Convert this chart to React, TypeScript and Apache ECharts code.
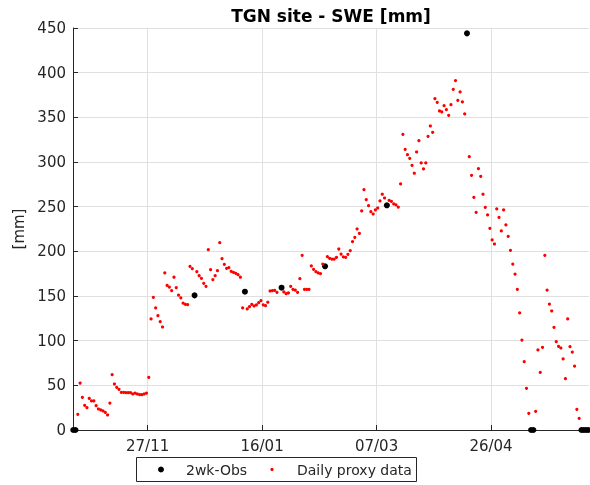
import React, { useEffect, useRef } from 'react';
import * as echarts from 'echarts';

// Day offsets are counted from 27/11 (day 0); tick labels every 50 days.
const TICK_DAYS = [0, 50, 100, 150];
const TICK_LABELS = ['27/11', '16/01', '07/03', '26/04'];

const X_MIN_DAY = -32.6;
const X_MAX_DAY = 192.8;

// Daily proxy SWE [mm], one value per day starting at PROXY_START_DAY (null = no value)
const PROXY_START_DAY = -31;
const PROXY_VALUES: (number | null)[] = [
  17.6, 52.6, 36.6, 27.6, 25, 35.4, 32.5, 32.5, 27.2, 23.5, // -31..-22
  22.4, 21.3, 19.8, 16.8, 30.2, 61.9, 51.5, 47.8, 45.5, 42.2, // -21..-12
  42.2, 41.8, 41.8, 41.8, 40.3, 41.4, 40.3, 39.5, 39.5, 40.3, // -11..-2
  41.4, 59, 124.3, 148.5, 136.6, 128, 121.3, 115.3, 175.8, 162, // -1..8
  160, 156, 171, 159.3, 151, 148, 142, 140.7, 140.3, 183.2, // 9..18
  180.6, null, 177.2, 172.7, 169.8, 164.2, 160.8, 201.9, 179.5, 168.3, // 19..28
  172.7, 178.3, 209.7, 191.8, 185.5, 181, 181.7, 177.6, 176.5, 175.4, // 29..38
  173.9, 171, 136.6, null, 135.5, 138, 140.7, 138.8, 140, 142.5, // 39..48
  144.7, 140, 139.2, 143, 155.6, 156, 156.4, 154.1, null, null, // 49..58
  154.5, 152.6, 153.4, 160.9, 157.5, 156.7, 154.1, 169.4, 195.6, 157.5, // 59..68
  157.5, 157.5, 183.6, 179.9, 177.2, 175.8, 175, 185.8, null, 194, // 69..78
  192.2, 191.4, 191.4, 193.3, 202.6, 197, 193.7, 193.3, 196.7, 200.7, // 79..88
  210.8, 215.5, 225, 220, 245.2, 269, 257.8, 251.1, 244.4, 241.8, // 89..98
  246.3, 248.5, 256.4, 263.9, 259.7, null, 257.1, 256, 253, 251.9, // 99..108
  249.6, 275.4, 331, 314.2, 308.2, 304.1, 296.3, 287.4, 311.2, 323.9, // 109..118
  298.9, 292.2, 298.9, 328.8, 340.3, 333.2, 370.9, 366.8, 357.1, 356, // 119..128
  363, 358.6, 352.3, 364.2, 381.4, 391.1, 369.1, 378.4, 367.2, 353.8, // 129..138
  null, 306, 285.1, 260.5, 243.7, 292.5, 284, 263.9, 249.3, 240.7, // 139..148
  225.8, 212.7, 208.2, 247.5, 238, 222.8, 246.3, 229.5, 216.8, 201.1, // 149..158
  185.8, 174.6, 157.5, 131, 100.7, 76.5, 46.6, 18.7, null, null, // 159..168
  20.9, 89.6, 64.5, 92.6, 195.5, 156.7, 141, 133.2, 115, 98.9, // 169..178
  93.7, 91.8, 79.5, 57.4, 124.3, 93.3, 87.3, 71.6, 23.2, 13.1, // 179..188
];

// Two-weekly observations
const OBS_DAYS = [-33, -32, 20, 42, 58, 77, 104, 139, 167, 168, 189, 190, 191, 192];
const OBS_VALUES = [0, 0, 150.7, 154.8, 159.3, 183.2, 251.5, 444, 0, 0, 0, 0, 0, 0];

const TITLE = 'TGN site - SWE [mm]';
const Y_NAME = '[mm]';
const LEGEND_NAMES = ['2wk-Obs', 'Daily proxy data'];

const FONT = '"DejaVu Sans", sans-serif';
const TEXT_COLOR = '#262626';
const GRID_COLOR = '#e0e0e0';

export default function App() {
  const ref = useRef<HTMLDivElement>(null);

  useEffect(() => {
    if (!ref.current) return;
    const chart = echarts.init(ref.current, undefined, { renderer: 'svg' });

    const proxyData: [number, number][] = [];
    PROXY_VALUES.forEach((v, i) => {
      if (v != null) proxyData.push([PROXY_START_DAY + i + 0.5, v]);
    });
    const obsData = OBS_DAYS.map((d, i) => [d + 0.5, OBS_VALUES[i]]);

    chart.setOption({
      animation: false,
      grid: { left: 73, top: 28, width: 516, height: 402 },
      xAxis: {
        type: 'value',
        min: X_MIN_DAY,
        max: X_MAX_DAY,
        axisLine: { show: true, onZero: false, lineStyle: { color: TEXT_COLOR, width: 1 } },
        axisTick: {
          show: true,
          inside: true,
          length: 5,
          customValues: TICK_DAYS,
          lineStyle: { color: TEXT_COLOR },
        },
        axisLabel: {
          customValues: TICK_DAYS,
          formatter: (v: number) => {
            const idx = TICK_DAYS.indexOf(Math.round(v));
            return idx >= 0 ? TICK_LABELS[idx] : '';
          },
          color: TEXT_COLOR,
          fontSize: 15,
          fontFamily: FONT,
          margin: 8,
        },
        splitLine: { show: true, lineStyle: { color: GRID_COLOR, width: 1 } },
      },
      yAxis: {
        type: 'value',
        min: 0,
        max: 450,
        interval: 50,
        name: Y_NAME,
        nameLocation: 'middle',
        nameRotate: 90,
        nameGap: 40,
        nameTextStyle: { color: TEXT_COLOR, fontSize: 15, fontFamily: FONT },
        axisLine: { show: true, onZero: false, lineStyle: { color: TEXT_COLOR, width: 1 } },
        axisTick: { show: true, inside: true, length: 5, lineStyle: { color: TEXT_COLOR } },
        axisLabel: { color: TEXT_COLOR, fontSize: 15, fontFamily: FONT, margin: 7 },
        splitLine: { show: true, lineStyle: { color: GRID_COLOR, width: 1 } },
      },
      series: [
        {
          type: 'scatter',
          name: LEGEND_NAMES[0],
          data: obsData,
          symbol: 'circle',
          symbolSize: 6,
          itemStyle: { color: '#000000', opacity: 1 },
          clip: false,
          z: 2,
        },
        {
          type: 'scatter',
          name: LEGEND_NAMES[1],
          data: proxyData,
          symbol: 'circle',
          symbolSize: 3.2,
          itemStyle: { color: '#ff0000', opacity: 1 },
          z: 3,
        },
      ],
      graphic: [
        {
          type: 'text',
          x: 331,
          y: 16,
          style: {
            text: TITLE,
            fill: '#000000',
            fontSize: 17,
            fontWeight: 'bold',
            fontFamily: FONT,
            align: 'center',
            verticalAlign: 'middle',
          },
        },
        {
          type: 'group',
          children: [
            {
              type: 'rect',
              shape: { x: 136.5, y: 457.5, width: 280, height: 24 },
              style: { fill: '#ffffff', stroke: TEXT_COLOR, lineWidth: 1 },
            },
            {
              type: 'circle',
              shape: { cx: 161, cy: 469.5, r: 3 },
              style: { fill: '#000000' },
            },
            {
              type: 'text',
              x: 186,
              y: 469.5,
              style: {
                text: LEGEND_NAMES[0],
                fill: TEXT_COLOR,
                fontSize: 14,
                fontFamily: FONT,
                align: 'left',
                verticalAlign: 'middle',
              },
            },
            {
              type: 'circle',
              shape: { cx: 272, cy: 469.5, r: 1.6 },
              style: { fill: '#ff0000' },
            },
            {
              type: 'text',
              x: 297,
              y: 469.5,
              style: {
                text: LEGEND_NAMES[1],
                fill: TEXT_COLOR,
                fontSize: 14,
                fontFamily: FONT,
                align: 'left',
                verticalAlign: 'middle',
              },
            },
          ],
        },
      ],
    });

    return () => chart.dispose();
  }, []);

  return (
    <div
      ref={ref}
      style={{ position: 'fixed', left: 0, top: 0, width: 590, height: 485 }}
    />
  );
}
